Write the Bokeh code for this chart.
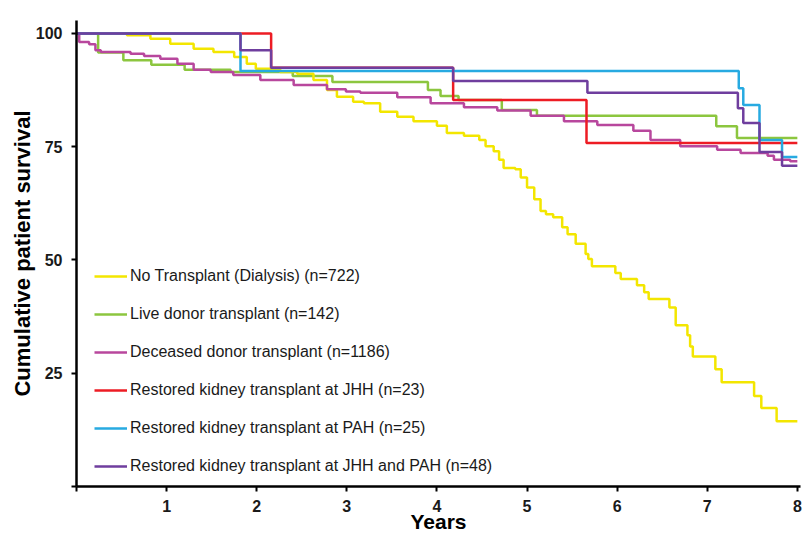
from bokeh.plotting import figure
from bokeh.models import Legend, LegendItem, FixedTicker, Range1d
from bokeh.embed import file_html
from bokeh.resources import INLINE

# ---- axis ticks ----
year_ticks = [0, 1, 2, 3, 4, 5, 6, 7, 8]
surv_ticks = [0, 25, 50, 75, 100]

# ---- series (step "after": time in years, cumulative survival %) ----
dial_t = [0, 0.56, 0.82, 1.04, 1.30, 1.52, 1.75, 1.89, 1.99, 2.26, 2.45, 2.63, 2.78,
          2.89, 3.07, 3.19, 3.37, 3.56, 3.74, 4.00, 4.11, 4.30, 4.47, 4.54, 4.63,
          4.69, 4.74, 4.87, 4.93, 5.00, 5.08, 5.15, 5.21, 5.29, 5.39, 5.45, 5.54,
          5.65, 5.68, 5.72, 5.98, 6.04, 6.22, 6.30, 6.35, 6.58, 6.65, 6.78, 6.81,
          6.84, 7.09, 7.16, 7.52, 7.60, 7.77, 8.00]
dial_s = [100, 99.6, 98.8, 97.7, 96.6, 95.9, 94.8, 93.3, 92.2, 91.5, 91.1, 89.7, 87.5,
          86.0, 84.9, 84.6, 82.7, 81.6, 80.6, 79.6, 78.0, 77.4, 76.5, 75.1, 74.0,
          72.1, 70.3, 70.0, 68.2, 66.0, 63.4, 60.8, 60.1, 59.4, 57.2, 55.7, 53.6,
          51.3, 50.2, 48.6, 47.1, 45.8, 44.4, 42.9, 41.4, 39.5, 35.6, 33.4, 30.9,
          28.7, 25.9, 23.0, 20.0, 17.3, 14.4, 14.4]

live_t = [0, 0.24, 0.52, 0.83, 1.20, 1.71, 2.40, 2.84, 3.90, 4.04, 4.24, 4.72, 5.11,
          7.10, 7.33, 8.00]
live_s = [100, 95.8, 94.1, 93.1, 92.0, 91.5, 90.6, 89.3, 87.5, 86.2, 85.3, 83.1, 81.8,
          79.5, 76.9, 76.9]

dec_t = [0, 0.03, 0.14, 0.21, 0.27, 0.60, 0.75, 0.93, 1.12, 1.30, 1.49, 1.74, 2.04,
         2.41, 2.78, 2.99, 3.15, 3.56, 3.93, 4.30, 4.67, 5.04, 5.41, 5.78, 6.18,
         6.37, 6.70, 7.11, 7.37, 7.67, 7.74, 7.92, 8.00]
dec_s = [100, 98.1, 97.6, 96.3, 95.9, 95.5, 95.0, 94.4, 93.3, 92.0, 91.5, 90.8, 89.7,
         88.6, 87.7, 87.2, 86.9, 85.9, 84.6, 83.7, 83.0, 81.8, 80.6, 79.8, 78.5,
         76.5, 75.1, 74.3, 73.6, 73.0, 72.1, 71.8, 71.8]

jhh_t = [0, 2.16, 4.18, 5.66, 8.00]
jhh_s = [100, 92.4, 85.3, 75.8, 75.8]

pah_t = [0, 1.82, 7.35, 7.40, 7.58, 7.83, 8.00]
pah_s = [100, 91.7, 87.9, 84.2, 76.5, 72.7, 72.7]

both_t = [0, 1.82, 2.16, 4.18, 5.67, 7.34, 7.40, 7.58, 7.83, 8.00]
both_s = [100, 96.3, 92.4, 89.5, 86.9, 83.5, 80.2, 73.8, 70.8, 70.8]

labels = ["No Transplant (Dialysis) (n=722)",
          "Live donor transplant (n=142)",
          "Deceased donor transplant (n=1186)",
          "Restored kidney transplant at JHH (n=23)",
          "Restored kidney transplant at PAH (n=25)",
          "Restored kidney transplant at JHH and PAH (n=48)"]
colors = ["#F3E600", "#8CC63F", "#B8479D", "#ED1C24", "#27AAE1", "#6F3E9E"]

p = figure(width=805, height=535, output_backend="svg", toolbar_location=None,
           x_range=Range1d(0, 8.035), y_range=Range1d(0, 102.85),
           min_border_left=76, min_border_right=5, min_border_top=20,
           min_border_bottom=46)
p.outline_line_color = None
p.grid.visible = False
p.background_fill_color = "white"

lw = 2.5
r_dial = p.step(dial_t, dial_s, mode="after", line_color=colors[0], line_width=lw)
r_live = p.step(live_t, live_s, mode="after", line_color=colors[1], line_width=lw)
r_dec = p.step(dec_t, dec_s, mode="after", line_color=colors[2], line_width=lw)
r_jhh = p.step(jhh_t, jhh_s, mode="after", line_color=colors[3], line_width=lw)
r_pah = p.step(pah_t, pah_s, mode="after", line_color=colors[4], line_width=lw)
r_both = p.step(both_t, both_s, mode="after", line_color=colors[5], line_width=lw)

# draw order: green under yellow
r_live.level = "underlay"

items = [LegendItem(label=l, renderers=[r]) for l, r in
         zip(labels, [r_dial, r_live, r_dec, r_jhh, r_pah, r_both])]
legend = Legend(items=items, location=(18, 10), margin=0, padding=0,
                glyph_width=33, glyph_height=20, label_height=20,
                label_standoff=3, spacing=18,
                label_text_font="Liberation Sans", label_text_font_size="16px",
                label_text_color="#1a1a1a",
                border_line_color=None, background_fill_alpha=0)
p.add_layout(legend, "center")

for ax in (p.xaxis[0], p.yaxis[0]):
    ax.axis_line_width = 2.5
    ax.axis_line_color = "black"
    ax.major_tick_line_width = 2
    ax.major_tick_line_color = "black"
    ax.major_tick_in = 0
    ax.major_tick_out = 5
    ax.minor_tick_line_color = None
    ax.major_label_text_font = "Liberation Sans"
    ax.major_label_text_font_style = "bold"
    ax.major_label_text_font_size = "16px"
    ax.major_label_text_color = "#1a1a1a"
    ax.axis_label_text_font = "Liberation Sans"
    ax.axis_label_text_font_style = "bold"
    ax.axis_label_text_color = "black"

p.xaxis.ticker = FixedTicker(ticks=year_ticks)
p.xaxis.major_label_overrides = {0: ""}
p.xaxis.axis_label = "Years"
p.xaxis.axis_label_text_font_size = "21px"
p.xaxis.major_label_standoff = 8
p.xaxis.axis_label_standoff = -5

p.yaxis.ticker = FixedTicker(ticks=surv_ticks)
p.yaxis.major_label_overrides = {0: ""}
p.yaxis.axis_label = "Cumulative patient survival"
p.yaxis.axis_label_text_font_size = "22px"
p.yaxis.major_label_standoff = 9
p.yaxis.axis_label_standoff = -2

open("out.html", "w").write(file_html(p, INLINE))
